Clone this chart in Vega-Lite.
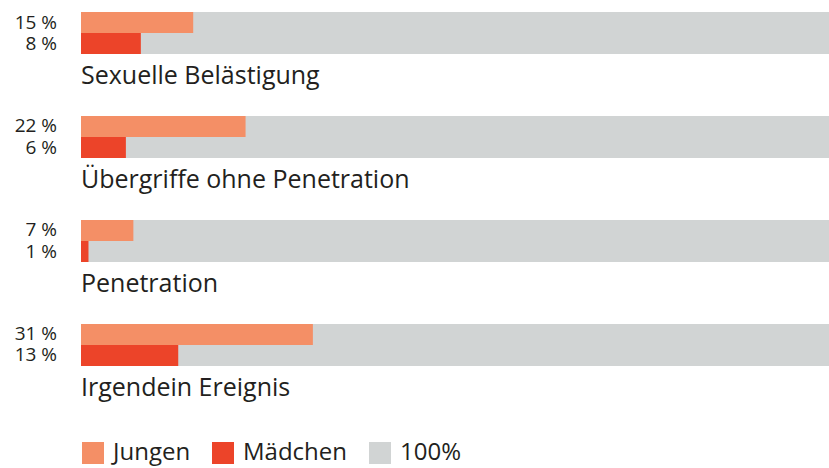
{
  "$schema": "https://vega.github.io/schema/vega-lite/v6.json",
  "width": 748,
  "height": 354,
  "autosize": "none",
  "padding": {"left": 81, "top": 12, "right": 0, "bottom": 102},
  "config": {"view": {"stroke": null}, "font": "Open Sans"},
  "data": {
    "values": [
      {"category": "Sexuelle Belästigung", "gender": "Jungen", "value": 15},
      {"category": "Sexuelle Belästigung", "gender": "Mädchen", "value": 8},
      {"category": "Übergriffe ohne Penetration", "gender": "Jungen", "value": 22},
      {"category": "Übergriffe ohne Penetration", "gender": "Mädchen", "value": 6},
      {"category": "Penetration", "gender": "Jungen", "value": 7},
      {"category": "Penetration", "gender": "Mädchen", "value": 1},
      {"category": "Irgendein Ereignis", "gender": "Jungen", "value": 31},
      {"category": "Irgendein Ereignis", "gender": "Mädchen", "value": 13}
    ]
  },
  "transform": [{"calculate": "datum.value + ' %'", "as": "label"}],
  "encoding": {
    "y": {
      "field": "category",
      "type": "nominal",
      "sort": null,
      "axis": null,
      "scale": {"paddingInner": 0.59615, "paddingOuter": 0}
    }
  },
  "layer": [
    {
      "transform": [{"filter": "datum.gender === 'Jungen'"}],
      "mark": {"type": "bar", "cornerRadius": 0},
      "encoding": {
        "x": {"datum": 100, "type": "quantitative", "scale": {"domain": [0, 100], "nice": false}, "axis": null},
        "color": {"datum": "100%"}
      }
    },
    {
      "mark": {"type": "bar"},
      "encoding": {
        "x": {"field": "value", "type": "quantitative"},
        "yOffset": {"field": "gender", "type": "nominal", "sort": ["Jungen", "Mädchen"], "scale": {"paddingInner": 0, "paddingOuter": 0}},
        "color": {
          "field": "gender",
          "type": "nominal",
          "scale": {"domain": ["Jungen", "Mädchen", "100%"], "range": ["#f48f66", "#ec4429", "#d1d4d4"]},
          "legend": {
            "title": null,
            "orient": "none",
            "legendX": 0,
            "legendY": 429,
            "direction": "horizontal",
            "symbolType": "square",
            "symbolSize": 484,
            "symbolStrokeWidth": 0,
            "symbolOpacity": 1,
            "labelFontSize": 24,
            "labelColor": "#231f20",
            "labelFont": "Open Sans",
            "labelOffset": 8,
            "columnPadding": 20,
            "symbolOffset": 0
          }
        }
      }
    },
    {
      "mark": {"type": "text", "align": "right", "baseline": "middle", "dx": -24, "fontSize": 19, "color": "#231f20"},
      "encoding": {
        "x": {"datum": 0, "type": "quantitative"},
        "yOffset": {"field": "gender", "type": "nominal", "sort": ["Jungen", "Mädchen"]},
        "text": {"field": "label"}
      }
    },
    {
      "transform": [{"filter": "datum.gender === 'Jungen'"}],
      "mark": {"type": "text", "align": "left", "baseline": "middle", "dy": 22, "fontSize": 25, "color": "#231f20"},
      "encoding": {
        "x": {"datum": 0, "type": "quantitative"},
        "y": {"field": "category", "type": "nominal", "sort": null, "bandPosition": 1},
        "text": {"field": "category"}
      }
    }
  ]
}
